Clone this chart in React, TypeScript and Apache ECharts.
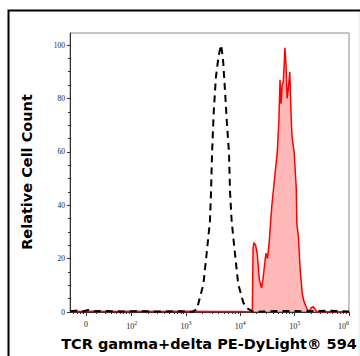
import React, { useEffect, useRef } from "react";
import * as echarts from "echarts";

// x values are positions on the logicle display axis (10^k sits at k)
const controlX = [0.87, 1.0, 1.1, 1.2, 1.3, 1.5, 1.8, 2.1, 2.5, 2.9, 3.11, 3.2, 3.32, 3.38, 3.44, 3.46, 3.48, 3.51, 3.55, 3.6, 3.645, 3.68, 3.72, 3.755, 3.79, 3.81, 3.84, 3.87, 3.9, 3.96, 4.055, 4.12, 4.21, 4.29, 4.4, 4.8, 5.2, 5.6, 6.0];
const controlY = [0.3, 0.6, 0.2, 0.8, 0.3, 0.4, 0.2, 0.3, 0.2, 0.3, 0, 1, 10.5, 22, 34, 45, 60, 75, 88, 96, 100, 95, 82, 70, 60, 45, 34, 28, 22, 10.5, 3.5, 1.5, 0.3, 0, 0.2, 0.4, 0.3, 0.5, 0.2];

const stainedX = [0.87, 1.2, 1.6, 2.0, 2.5, 3.0, 3.5, 4.0, 4.22, 4.234, 4.25, 4.28, 4.31, 4.35, 4.39, 4.42, 4.47, 4.5, 4.53, 4.58, 4.63, 4.68, 4.71, 4.73, 4.75, 4.77, 4.79, 4.81, 4.82, 4.84, 4.86, 4.88, 4.91, 4.93, 4.95, 4.99, 5.03, 5.04, 5.07, 5.1, 5.14, 5.17, 5.23, 5.27, 5.3, 5.34, 5.38, 5.41, 5.7, 6.0];
const stainedY = [0.2, 0.3, 0.2, 0.3, 0.2, 0.3, 0.2, 0.2, 0, 24, 26, 25, 22, 12, 9, 13, 22, 20, 26, 40, 50, 60, 72, 87, 78, 85, 86, 94, 99, 93, 80, 83, 90, 76, 66, 60, 46, 33, 28, 16, 7, 4, 1, 0.3, 1.5, 2, 1, 0, 0.2, 0];

const xTickValues = [1.16, 2, 3, 4, 5, 6];
const xTickLabels = ["0", "10{s|2}", "10{s|3}", "10{s|4}", "10{s|5}", "10{s|6}"];
const xLinearMinorTicks = [0.93, 1.0, 1.06, 1.11, 1.35, 1.52, 1.63, 1.72, 1.79, 1.85, 1.9, 1.95];
const decades = [2, 3, 4, 5];
const multipliers = [2, 3, 4, 5, 6, 7, 8, 9];

const yTicks = [0, 20, 40, 60, 80, 100];

const xTitle = "TCR gamma+delta PE-DyLight® 594";
const yTitle = "Relative Cell Count";

export default function App() {
  const ref = useRef<HTMLDivElement>(null);
  useEffect(() => {
    document.body.style.margin = "0";
    if (!ref.current) return;
    const chart = echarts.init(ref.current, undefined, { renderer: "svg" });
    const minorX: number[] = [...xLinearMinorTicks];
    decades.forEach((d) => multipliers.forEach((m) => minorX.push(d + Math.log10(m))));
    const xMin = 0.864;
    const xMax = 6;
    const labelFont = "'Liberation Serif', 'DejaVu Serif', serif";
    chart.setOption({
      animation: false,
      grid: { left: 70, top: 33, right: 11, bottom: 44, show: true, borderColor: "#888", borderWidth: 1, backgroundColor: "transparent" },
      xAxis: [
        {
          type: "value", min: xMin, max: xMax, position: "bottom",
          axisLine: { show: true, lineStyle: { color: "#333", width: 1 } },
          axisTick: { show: true, customValues: xTickValues, length: 4, lineStyle: { color: "#333" } },
          axisLabel: {
            show: true, customValues: xTickValues, margin: 8, alignMaxLabel: "right",
            formatter: (v: number) => {
              const i = xTickValues.findIndex((t) => Math.abs(t - v) < 1e-6);
              return i >= 0 ? xTickLabels[i] : "";
            },
            color: "#222", fontFamily: labelFont, fontSize: 8,
            rich: { s: { fontSize: 6, verticalAlign: "top", fontFamily: labelFont, color: "#222", padding: [0, 0, 6, 0] } },
          },
          splitLine: { show: false },
        },
        {
          type: "value", min: xMin, max: xMax, position: "bottom",
          axisLine: { show: false },
          axisTick: { show: true, customValues: minorX, length: 2, lineStyle: { color: "#333" } },
          axisLabel: { show: false },
          splitLine: { show: false },
        },
      ],
      yAxis: {
        type: "value", min: 0, max: 104.5, interval: 20,
        axisLine: { show: true, lineStyle: { color: "#333", width: 1 } },
        axisTick: { show: true, length: 3, customValues: yTicks, lineStyle: { color: "#333" } },
        minorTick: { show: true, splitNumber: 4, length: 2, lineStyle: { color: "#333" } },
        axisLabel: { customValues: yTicks, color: "#222", fontFamily: labelFont, fontSize: 7.5, margin: 5 },
        splitLine: { show: false },
        minorSplitLine: { show: false },
      },
      series: [
        {
          type: "line", xAxisIndex: 0, symbol: "none", z: 2,
          data: stainedX.map((x, i) => [x, stainedY[i]]),
          lineStyle: { color: "#ff0000", width: 1.5 },
          areaStyle: { color: "rgba(255,0,0,0.4)" },
        },
        {
          type: "line", xAxisIndex: 0, symbol: "none", z: 3,
          data: controlX.map((x, i) => [x, controlY[i]]),
          lineStyle: { color: "#000", width: 2, type: [7, 5] },
        },
      ],
      graphic: [
        { type: "rect", shape: { x: 8.5, y: 10.5, width: 420, height: 420 }, style: { fill: "none", stroke: "#000", lineWidth: 2 }, silent: true },
        { type: "line", shape: { x1: 359, y1: 12, x2: 359, y2: 356 }, style: { stroke: "#e4e4e4", lineWidth: 1 }, silent: true },
        {
          type: "text", x: 27, y: 172, rotation: Math.PI / 2,
          style: { text: yTitle, fill: "#000", font: "bold 14.5px 'DejaVu Sans'", align: "center", verticalAlign: "middle" },
        },
        {
          type: "text", x: 209, y: 344,
          style: { text: xTitle, fill: "#000", font: "bold 14.5px 'DejaVu Sans'", align: "center", verticalAlign: "middle" },
        },
      ],
    });
    return () => chart.dispose();
  }, []);
  return <div ref={ref} style={{ width: 360, height: 356 }} />;
}
